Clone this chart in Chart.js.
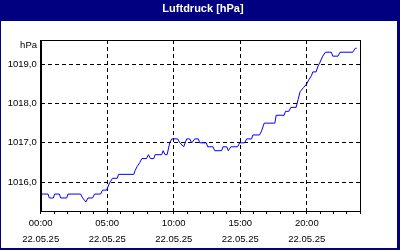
<!DOCTYPE html>
<html>
<head>
<meta charset="utf-8">
<script src="https://cdn.jsdelivr.net/npm/chart.js@4/dist/chart.umd.min.js"></script>
<style>
  html, body { margin: 0; padding: 0; background: #fff; }
  #wrap { width: 400px; height: 250px; }
</style>
</head>
<body>
<div id="wrap"><canvas id="c" width="400" height="250"></canvas></div>
<script>
// Luftdruck 22.05.25, hours since midnight and hPa
const hours = [
  0, 0.55, 0.65, 0.95, 1.05, 1.4, 1.5, 1.95, 2.05, 3.0,
  3.15, 3.4, 3.55, 3.9, 4.05, 4.5, 4.65, 4.95, 5.2, 5.4,
  5.75, 5.85, 7.0, 7.1, 7.25, 7.45, 7.6, 7.95, 8.1, 8.25,
  8.5, 8.6, 9.1, 9.2, 9.35, 9.5, 9.7, 9.85, 10.3, 10.45,
  10.75, 10.97, 11.2, 11.35, 11.58, 11.85, 11.95, 12.45, 12.55, 12.95,
  13.08, 13.6, 13.7, 13.98, 14.1, 14.3, 14.8, 14.95, 15.33, 15.48,
  15.85, 15.95, 16.45, 16.6, 16.8, 17.6, 17.7, 18.3, 18.4, 18.65,
  18.8, 19.2, 19.35, 19.5, 19.75, 20.0, 20.15, 20.35, 20.45, 20.7,
  20.85, 21.0, 21.2, 21.4, 21.85, 21.95, 22.35, 22.5, 23.45, 23.65,
  23.75
];
const pressure = [
  1015.7, 1015.7, 1015.6, 1015.6, 1015.7, 1015.7, 1015.6, 1015.6, 1015.7, 1015.7,
  1015.6, 1015.5, 1015.6, 1015.6, 1015.7, 1015.7, 1015.8, 1015.8, 1016.0, 1016.1,
  1016.1, 1016.2, 1016.2, 1016.3, 1016.4, 1016.5, 1016.6, 1016.6, 1016.7, 1016.6,
  1016.6, 1016.7, 1016.7, 1016.8, 1016.7, 1016.7, 1017.0, 1017.1, 1017.1, 1017.0,
  1016.9, 1017.1, 1017.1, 1017.0, 1017.1, 1017.1, 1017.0, 1017.0, 1016.9, 1016.9,
  1016.8, 1016.8, 1016.9, 1016.9, 1016.8, 1016.9, 1016.9, 1017.0, 1017.0, 1017.1,
  1017.1, 1017.2, 1017.2, 1017.3, 1017.5, 1017.5, 1017.7, 1017.7, 1017.8, 1017.8,
  1017.9, 1017.9, 1018.1, 1018.3, 1018.4, 1018.5, 1018.6, 1018.7, 1018.8, 1018.8,
  1018.95, 1019.05, 1019.2, 1019.3, 1019.3, 1019.2, 1019.2, 1019.3, 1019.3, 1019.4,
  1019.4
];
const dateLabel = '22.05.25';
const yUnit = 'hPa';
const title = 'Luftdruck [hPa]';

const FONT = '"Liberation Sans", Arial, sans-serif';
const NAVY = '#000080';

// window frame, title bar, plot border and unit label
const frame = {
  id: 'frame',
  beforeDraw(chart) {
    const ctx = chart.ctx;
    ctx.save();
    ctx.fillStyle = NAVY;
    ctx.fillRect(0, 0, 400, 250);
    ctx.fillStyle = '#fff';
    ctx.fillRect(1, 21, 396, 227);
    ctx.font = 'bold 11px ' + FONT;
    ctx.textAlign = 'center';
    ctx.textBaseline = 'alphabetic';
    ctx.fillText(title, 203, 12);
    ctx.restore();
  },
  afterDraw(chart) {
    const ctx = chart.ctx;
    const a = chart.chartArea;
    ctx.save();
    ctx.strokeStyle = '#000';
    ctx.lineWidth = 1;
    ctx.setLineDash([]);
    ctx.strokeRect(Math.round(a.left) + 0.5, Math.round(a.top) + 0.5,
      Math.round(a.right - a.left), Math.round(a.bottom - a.top));
    ctx.fillStyle = '#000';
    ctx.font = '9.5px ' + FONT;
    ctx.textAlign = 'right';
    ctx.textBaseline = 'middle';
    ctx.fillText(yUnit, 37, 45.5);
    ctx.restore();
  }
};

new Chart(document.getElementById('c').getContext('2d'), {
  type: 'line',
  data: {
    datasets: [{
      data: hours.map((h, i) => ({ x: h, y: pressure[i] })),
      borderColor: '#0000ff',
      borderWidth: 1,
      pointRadius: 0,
      tension: 0,
      fill: false
    }]
  },
  options: {
    responsive: false,
    animation: false,
    devicePixelRatio: 1,
    layout: { padding: { left: 0, top: 40, right: 40, bottom: 0 } },
    plugins: { legend: { display: false }, tooltip: { enabled: false }, title: { display: false } },
    scales: {
      x: {
        type: 'linear',
        min: 0,
        max: 24,
        afterFit: (s) => { s.height = 39; },
        border: { display: true, color: '#000', dash: [4, 3] },
        grid: {
          color: (c) => (c.tick.value % 5 === 0 && c.tick.value > 0) ? '#000' : 'rgba(0,0,0,0)',
          tickColor: '#000',
          tickLength: 3,
          tickBorderDash: [],
          drawOnChartArea: true
        },
        ticks: {
          stepSize: 1,
          autoSkip: false,
          maxRotation: 0,
          padding: 2,
          color: '#000',
          font: { family: FONT, size: 9.5, lineHeight: '15.4px' },
          callback: (v) => v % 5 === 0 ? [String(v).padStart(2, '0') + ':00', dateLabel] : ''
        }
      },
      y: {
        min: 1015.27,
        max: 1019.61,
        afterFit: (s) => { s.width = 40.7; },
        border: { display: true, color: '#000', dash: [4, 3] },
        grid: {
          color: '#000',
          drawTicks: false
        },
        ticks: {
          stepSize: 1,
          includeBounds: false,
          padding: 4,
          color: '#000',
          font: { family: FONT, size: 9.5 },
          callback: (v) => v.toFixed(1).replace('.', ',')
        }
      }
    }
  },
  plugins: [frame]
});
</script>
</body>
</html>
